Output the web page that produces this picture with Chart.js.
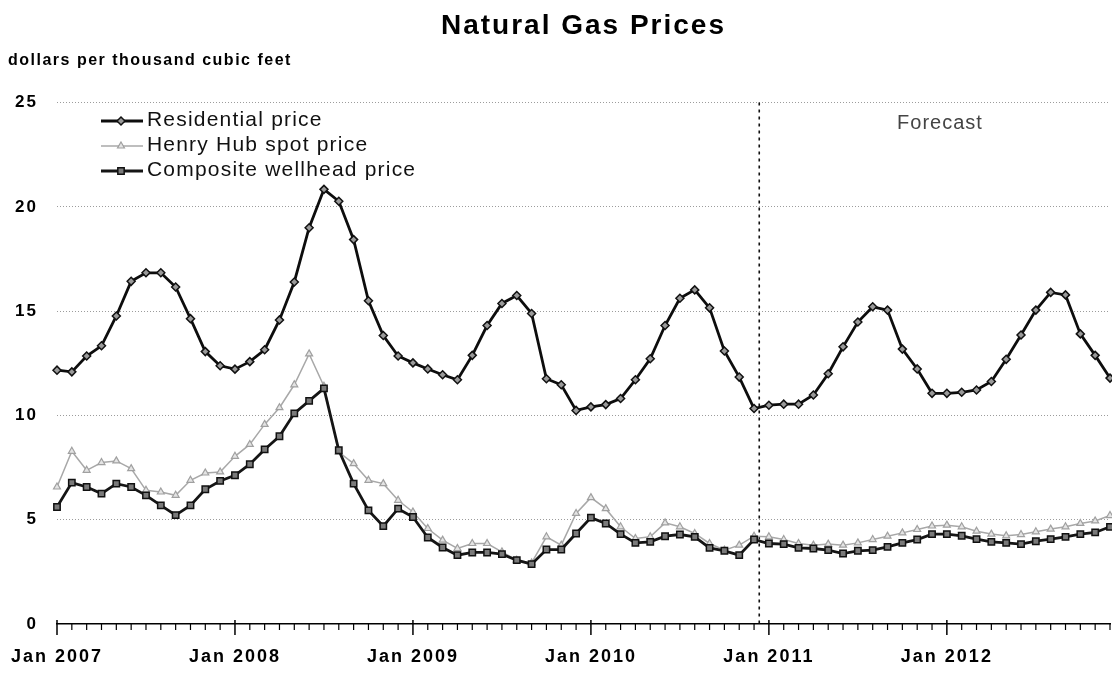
<!DOCTYPE html>
<html>
<head>
<meta charset="utf-8">
<title>Natural Gas Prices</title>
<script src="https://cdn.jsdelivr.net/npm/chart.js@4.4.1/dist/chart.umd.min.js"></script>
<style>
    html, body { margin: 0; padding: 0; background: #fff; }
    #wrap { width: 1112px; height: 677px; }
</style>
</head>
<body>
<div id="wrap"><canvas id="gasChart" width="1112" height="677"></canvas></div>
<script>
// categories: one point per month, Jan 2007 .. Dec 2012
const years = [2007, 2008, 2009, 2010, 2011, 2012];
const monthNames = ['Jan', 'Feb', 'Mar', 'Apr', 'May', 'Jun', 'Jul', 'Aug', 'Sep', 'Oct', 'Nov', 'Dec'];
const months = [];
years.forEach((y) => { monthNames.forEach((m) => { months.push(m + ' ' + y); }); });

// dollars per thousand cubic feet
const residential = [
    12.17, 12.09, 12.85, 13.34, 14.77, 16.43, 16.84, 16.84, 16.16, 14.64, 13.06, 12.38,
    12.22, 12.58, 13.15, 14.58, 16.40, 19.00, 20.84, 20.27, 18.43, 15.50, 13.83, 12.85,
    12.52, 12.23, 11.95, 11.71, 12.88, 14.31, 15.37, 15.75, 14.89, 11.76, 11.47, 10.24,
    10.41, 10.52, 10.81, 11.71, 12.72, 14.31, 15.62, 16.02, 15.16, 13.09, 11.84, 10.33,
    10.49, 10.54, 10.54, 10.98, 12.00, 13.29, 14.48, 15.21, 15.05, 13.18, 12.23, 11.06,
    11.06, 11.11, 11.22, 11.63, 12.69, 13.86, 15.05, 15.90, 15.78, 13.91, 12.88, 11.79
];
const henryHub = [
    6.57, 8.28, 7.37, 7.74, 7.82, 7.45, 6.41, 6.33, 6.17, 6.89, 7.24, 7.29,
    8.04, 8.61, 9.57, 10.37, 11.47, 12.95, 11.40, 8.24, 7.69, 6.89, 6.73, 5.93,
    5.37, 4.58, 4.02, 3.62, 3.86, 3.86, 3.46, 3.06, 2.93, 4.18, 3.78, 5.30,
    6.06, 5.53, 4.66, 4.10, 4.18, 4.85, 4.66, 4.34, 3.86, 3.54, 3.78, 4.21,
    4.18, 4.05, 3.86, 3.78, 3.83, 3.78, 3.89, 4.05, 4.21, 4.37, 4.53, 4.70,
    4.74, 4.66, 4.45, 4.31, 4.23, 4.29, 4.42, 4.55, 4.66, 4.82, 4.94, 5.20
];
const wellhead = [
    5.61, 6.78, 6.57, 6.25, 6.73, 6.57, 6.17, 5.69, 5.22, 5.69, 6.46, 6.86,
    7.13, 7.66, 8.37, 9.00, 10.10, 10.70, 11.30, 8.33, 6.73, 5.45, 4.69, 5.53,
    5.13, 4.15, 3.67, 3.30, 3.43, 3.43, 3.35, 3.06, 2.87, 3.57, 3.57, 4.34,
    5.10, 4.82, 4.31, 3.89, 3.94, 4.21, 4.29, 4.18, 3.65, 3.51, 3.30, 4.05,
    3.86, 3.83, 3.65, 3.62, 3.54, 3.38, 3.51, 3.54, 3.70, 3.89, 4.05, 4.31,
    4.31, 4.23, 4.07, 3.94, 3.89, 3.83, 3.97, 4.07, 4.18, 4.31, 4.39, 4.66
];

const seriesNames = ['Residential price', 'Henry Hub spot price', 'Composite wellhead price'];
const yMin = 0, yMax = 25, yStep = 5;
const lastHistory = 'Dec 2010';   // forecast starts just after this month
const forecastLabel = 'Forecast';
const unitLabel = 'dollars per thousand cubic feet';

const FONT = '"Liberation Sans", Arial, sans-serif';

// draws the bits Chart.js has no option for: forecast line, month ticks, legend, notes
const extras = {
    id: 'extras',
    beforeDraw(chart) {
        chart.ctx.letterSpacing = '2px';
    },
    beforeDatasetsDraw(chart) {
        const ctx = chart.ctx;
        ctx.letterSpacing = '0px';
        const xs = chart.scales.x;
        const area = chart.chartArea;

        // forecast divider
        const fx = xs.getPixelForValue(months.indexOf(lastHistory) + 0.35);
        ctx.save();
        ctx.strokeStyle = '#111';
        ctx.lineWidth = 1.6;
        ctx.setLineDash([3, 4]);
        ctx.beginPath();
        ctx.moveTo(fx, area.top);
        ctx.lineTo(fx, area.bottom);
        ctx.stroke();
        ctx.restore();

        // month ticks, January ones longer
        ctx.save();
        ctx.strokeStyle = '#000';
        months.forEach((m, i) => {
            const x = xs.getPixelForValue(i);
            const major = m.startsWith('Jan');
            ctx.lineWidth = major ? 1.5 : 1.2;
            ctx.beginPath();
            ctx.moveTo(x, major ? area.bottom - 4 : area.bottom);
            ctx.lineTo(x, area.bottom + (major ? 11 : 6));
            ctx.stroke();
        });
        ctx.restore();
    },
    afterDraw(chart) {
        const ctx = chart.ctx;
        ctx.save();

        // legend (top-left, one row per series)
        const rows = [121, 146, 171];
        const legendOrder = [0, 1, 2];
        legendOrder.forEach((di, r) => {
            const ds = chart.data.datasets[di];
            const y = rows[r];
            ctx.strokeStyle = ds.borderColor;
            ctx.lineWidth = ds.borderWidth;
            ctx.setLineDash([]);
            ctx.beginPath();
            ctx.moveTo(101, y);
            ctx.lineTo(143, y);
            ctx.stroke();
            ctx.fillStyle = ds.pointBackgroundColor;
            ctx.strokeStyle = ds.pointBorderColor;
            ctx.lineWidth = ds.pointBorderWidth;
            Chart.helpers.drawPoint(ctx, {
                pointStyle: ds.pointStyle, radius: ds.pointRadius, borderWidth: ds.pointBorderWidth, rotation: 0
            }, 121, y);

            ctx.letterSpacing = '1.2px';
            ctx.fillStyle = '#111';
            ctx.font = (di === 0 ? '500 ' : '') + '21px ' + FONT;
            ctx.textAlign = 'left';
            ctx.textBaseline = 'middle';
            ctx.fillText(seriesNames[di], 147, y - 1);
        });

        // "Forecast" note
        ctx.letterSpacing = '1px';
        ctx.fillStyle = '#444';
        ctx.font = '20px ' + FONT;
        ctx.textAlign = 'center';
        ctx.fillText(forecastLabel, 940, 123);

        // units, top left
        ctx.letterSpacing = '1.5px';
        ctx.fillStyle = '#000';
        ctx.font = 'bold 16px ' + FONT;
        ctx.textAlign = 'left';
        ctx.textBaseline = 'alphabetic';
        ctx.fillText(unitLabel, 8, 65);

        ctx.restore();
    }
};

const ctx1 = document.getElementById('gasChart');
const chart1 = new Chart(ctx1, {
    type: 'line',
    data: {
        labels: months,
        datasets: [
            {
                label: seriesNames[0], data: residential, order: 0, clip: false,
                borderColor: '#0d0d0d', borderWidth: 2.8,
                pointStyle: 'rectRot', pointRadius: 4,
                pointBackgroundColor: '#9a9a9a', pointBorderColor: '#111', pointBorderWidth: 1.5
            },
            {
                label: seriesNames[1], data: henryHub, order: 2, clip: false,
                borderColor: '#a8a8a8', borderWidth: 1.5,
                pointStyle: 'triangle', pointRadius: 4,
                pointBackgroundColor: '#e4e4e4', pointBorderColor: '#a0a0a0', pointBorderWidth: 1.2
            },
            {
                label: seriesNames[2], data: wellhead, order: 1, clip: false,
                borderColor: '#151515', borderWidth: 2.8,
                pointStyle: 'rect', pointRadius: 4.5,
                pointBackgroundColor: '#7a7a7a', pointBorderColor: '#111', pointBorderWidth: 1.5
            }
        ]
    },
    options: {
        responsive: false,
        animation: false,
        layout: { autoPadding: false, padding: { left: 0, right: 2, top: 0, bottom: 0 } },
        elements: { line: { tension: 0 } },
        plugins: {
            legend: { display: false },
            tooltip: { enabled: false },
            title: {
                display: true,
                text: 'Natural Gas Prices',
                fullSize: false,
                color: '#000',
                font: { family: FONT, size: 28, weight: 'bold' },
                padding: { top: 9, bottom: 60 }
            }
        },
        scales: {
            x: {
                type: 'category',
                offset: false,
                border: { display: true, color: '#000', width: 1.5 },
                // tick marks are drawn by the plugin; the long invisible tick only pushes labels down
                grid: { drawOnChartArea: false, drawTicks: true, tickLength: 22, tickColor: 'rgba(0,0,0,0)' },
                ticks: {
                    autoSkip: false,
                    maxRotation: 0,
                    padding: 0,
                    color: '#000',
                    font: { family: FONT, size: 18, weight: 'bold' },
                    callback: function (val, index) {
                        const lab = months[index];
                        return lab.startsWith('Jan') ? lab : '';
                    }
                },
                afterFit: (scale) => { scale.height = 53; }
            },
            y: {
                min: yMin,
                max: yMax,
                border: { display: false, dash: [1, 2] },
                grid: {
                    drawTicks: false,
                    color: (c) => (c.tick.value === 0 ? 'rgba(0,0,0,0)' : '#9c9c9c'),
                    lineWidth: 1
                },
                ticks: {
                    stepSize: yStep,
                    padding: 19,
                    color: '#000',
                    font: { family: FONT, size: 17, weight: 'bold' }
                },
                afterFit: (scale) => { scale.width = 57; }
            }
        }
    },
    plugins: [extras]
});
</script>
</body>
</html>
